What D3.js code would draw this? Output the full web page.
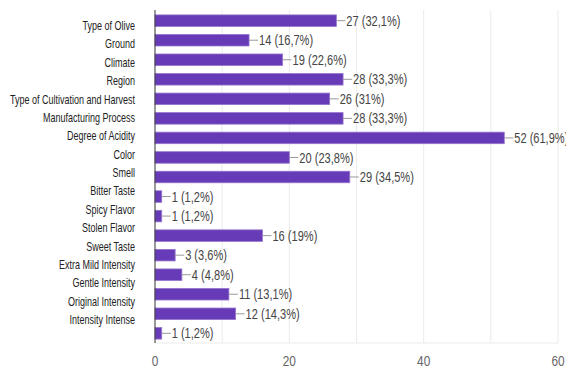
<!DOCTYPE html>
<html>
<head>
<meta charset="utf-8">
<script src="https://cdn.jsdelivr.net/npm/d3@7"></script>
<style>
  body { margin: 0; background: #fff; }
  text { font-family: "Liberation Sans", Arial, sans-serif; }
</style>
</head>
<body>
<script>
const width = 566;
const height = 367;

const categories = [
  "Type of Olive", "Ground", "Climate", "Region", "Type of Cultivation and Harvest",
  "Manufacturing Process", "Degree of Acidity", "Color", "Smell", "Bitter Taste",
  "Spicy Flavor", "Stolen Flavor", "Sweet Taste", "Extra Mild Intensity",
  "Gentle Intensity", "Original Intensity", "Intensity Intense"
];
const counts = [27, 14, 19, 28, 26, 28, 52, 20, 29, 1, 1, 16, 3, 4, 11, 12, 1];
const percents = ["32,1%", "16,7%", "22,6%", "33,3%", "31%", "33,3%", "61,9%", "23,8%",
  "34,5%", "1,2%", "1,2%", "19%", "3,6%", "4,8%", "13,1%", "14,3%", "1,2%"];
const xTicks = [0, 20, 40, 60];

// the original picture is squeezed horizontally, so text is drawn narrow
const sxLabel = 0.72;
const sxValue = 0.79;

const svg = d3.select('body')
  .append('svg')
  .attr('width', width)
  .attr('height', height);

const x = d3.scaleLinear().domain([0, 60]).range([155, 558]);
const y = d3.scaleBand().domain(d3.range(counts.length)).range([11, 343]).paddingInner(0.41).paddingOuter(0.2);
// labels in the original sit on a slightly tighter step than the bars
const yLabel = d3.scalePoint().domain(categories).range([25.5, 319.5]);

// grid
svg.append('g').selectAll('line')
  .data(d3.range(10, 61, 10))
  .enter().append('line')
  .attr('x1', d => x(d)).attr('x2', d => x(d))
  .attr('y1', 10).attr('y2', 343)
  .attr('stroke', '#ebebeb');
svg.append('line')
  .attr('x1', x(0)).attr('x2', x(60))
  .attr('y1', 343).attr('y2', 343)
  .attr('stroke', '#ebebeb');

// bars
svg.append('g').selectAll('rect')
  .data(counts)
  .enter().append('rect')
  .attr('x', x(0))
  .attr('y', (d, i) => y(i))
  .attr('width', d => x(d) - x(0))
  .attr('height', y.bandwidth())
  .attr('fill', '#673ab7')
  .attr('stroke', '#9575cd')
  .attr('stroke-width', 0.8);

// value labels with connector
const vals = svg.append('g').selectAll('g')
  .data(counts)
  .enter().append('g')
  .attr('transform', (d, i) => `translate(${x(d)},${y(i) + y.bandwidth() / 2})`);
vals.append('line')
  .attr('x1', 0).attr('x2', 9)
  .attr('stroke', '#999');
vals.append('text')
  .attr('transform', `translate(10,0) scale(${sxValue},1)`)
  .attr('dy', '0.36em')
  .attr('font-size', 14)
  .attr('fill', '#444')
  .text((d, i) => `${d} (${percents[i]})`);

// left axis line
svg.append('line')
  .attr('x1', x(0)).attr('x2', x(0))
  .attr('y1', 10).attr('y2', 343)
  .attr('stroke', '#333');

// category labels
svg.append('g').selectAll('text')
  .data(categories)
  .enter().append('text')
  .attr('transform', d => `translate(135,${yLabel(d)}) scale(${sxLabel},1)`)
  .attr('dy', '0.36em')
  .attr('text-anchor', 'end')
  .attr('font-size', 12.5)
  .attr('fill', '#222')
  .text(d => d);

// x tick labels
svg.append('g').selectAll('text')
  .data(xTicks)
  .enter().append('text')
  .attr('transform', d => `translate(${x(d)},366) scale(${sxValue},1)`)
  .attr('text-anchor', 'middle')
  .attr('font-size', 15)
  .attr('fill', '#666')
  .text(d => d);
</script>
</body>
</html>
